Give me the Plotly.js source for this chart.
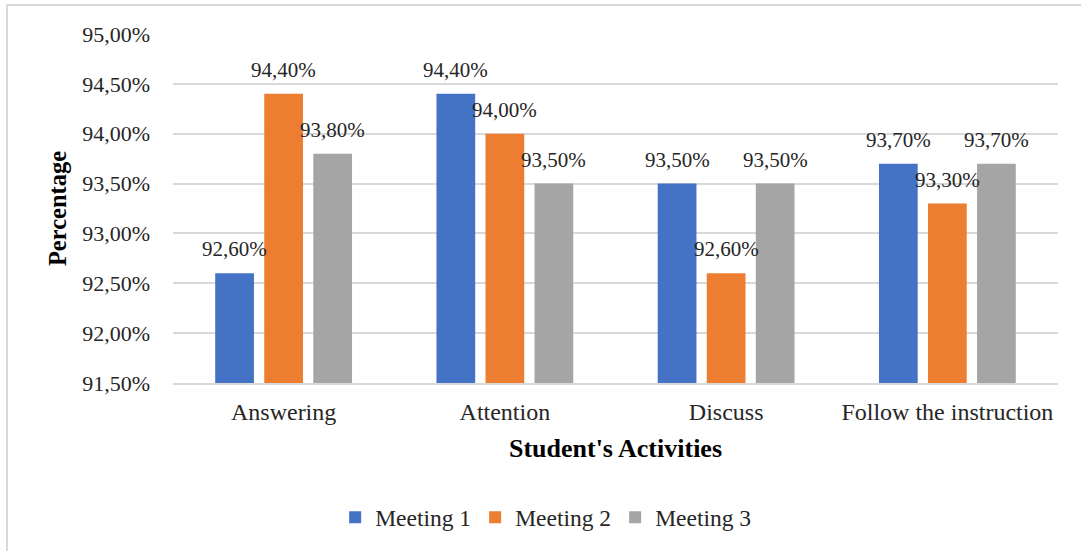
<!DOCTYPE html>
<html>
<head>
<meta charset="utf-8">
<script src="https://cdn.plot.ly/plotly-3.0.1.min.js"></script>
<style>
html,body{margin:0;padding:0;background:#fff;overflow:hidden;}
#chart{width:1081px;height:551px;position:absolute;left:0;top:0;}
#frame{position:absolute;left:6px;top:4px;width:1200px;height:700px;border:2px solid #d9d9d9;pointer-events:none;}
</style>
</head>
<body>
<div id="chart"></div>
<div id="frame"></div>
<script>
const categories = ["Answering", "Attention", "Discuss", "Follow the instruction"];
const seriesNames = ["Meeting 1", "Meeting 2", "Meeting 3"];
const meeting1 = [92.6, 94.4, 93.5, 93.7];
const meeting2 = [94.4, 94.0, 92.6, 93.3];
const meeting3 = [93.8, 93.5, 93.5, 93.7];
const colors = ["#4472C4", "#ED7D31", "#A5A5A5"];
const yTicks = [91.5, 92.0, 92.5, 93.0, 93.5, 94.0, 94.5, 95.0];

const W = 1081, H = 551;
const margin = {l: 173, r: 23, t: 34, b: 168};
const bargap = 0.335, bargroupgap = 0.21;
const FONT = "'Liberation Serif', 'Times New Roman', serif";

const allSeries = [meeting1, meeting2, meeting3];
const traces = allSeries.map((vals, i) => ({
  type: 'bar',
  name: seriesNames[i],
  x: categories,
  y: vals,
  marker: {color: colors[i]},
  hoverinfo: 'x+y+name'
}));

const plotW = W - margin.l - margin.r;
const slotPx = plotW / categories.length * (1 - bargap) / allSeries.length;
const annotations = [];
allSeries.forEach((vals, i) => {
  vals.forEach((v, j) => {
    annotations.push({
      x: categories[j], y: v, xref: 'x', yref: 'y',
      text: v.toFixed(2).replace('.', ',') + '%',
      showarrow: false,
      xanchor: 'center', yanchor: 'bottom',
      xshift: (i - 1) * slotPx,
      yshift: 10,
      font: {family: FONT, size: 21, color: '#262626'}
    });
  });
});

const layout = {
  width: W, height: H,
  margin: margin,
  paper_bgcolor: '#ffffff',
  plot_bgcolor: '#ffffff',
  barmode: 'group',
  bargap: bargap,
  bargroupgap: bargroupgap,
  separators: ',.',
  font: {family: FONT, size: 22, color: '#262626'},
  xaxis: {
    type: 'category',
    showgrid: false,
    showline: true, linecolor: '#d9d9d9', linewidth: 2,
    ticks: '', ticklabelstandoff: 6,
    tickfont: {family: FONT, size: 24, color: '#262626'},
    title: {text: "<b>Student's Activities</b>", font: {family: FONT, size: 26, color: '#000'}, standoff: 15}
  },
  yaxis: {
    range: [91.5, 95.0],
    tickvals: yTicks,
    ticktext: yTicks.map(v => v.toFixed(2).replace('.', ',') + '%'),
    showgrid: true, gridcolor: '#d9d9d9', gridwidth: 2,
    zeroline: false, showline: false,
    ticks: '', ticklabelstandoff: 22,
    tickfont: {family: FONT, size: 22, color: '#262626'},
    title: {text: '<b>Percentage</b>', font: {family: FONT, size: 24.5, color: '#000'}, standoff: 8}
  },
  showlegend: true,
  legend: {
    orientation: 'h',
    x: 0.4205, xanchor: 'center',
    y: -0.385, yanchor: 'middle',
    font: {family: FONT, size: 23.5, color: '#262626'},
    itemwidth: 30,
    entrywidth: 95,
    traceorder: 'normal'
  },
  annotations: annotations
};

Plotly.newPlot('chart', traces, layout, {displayModeBar: false, staticPlot: true});
</script>
</body>
</html>
